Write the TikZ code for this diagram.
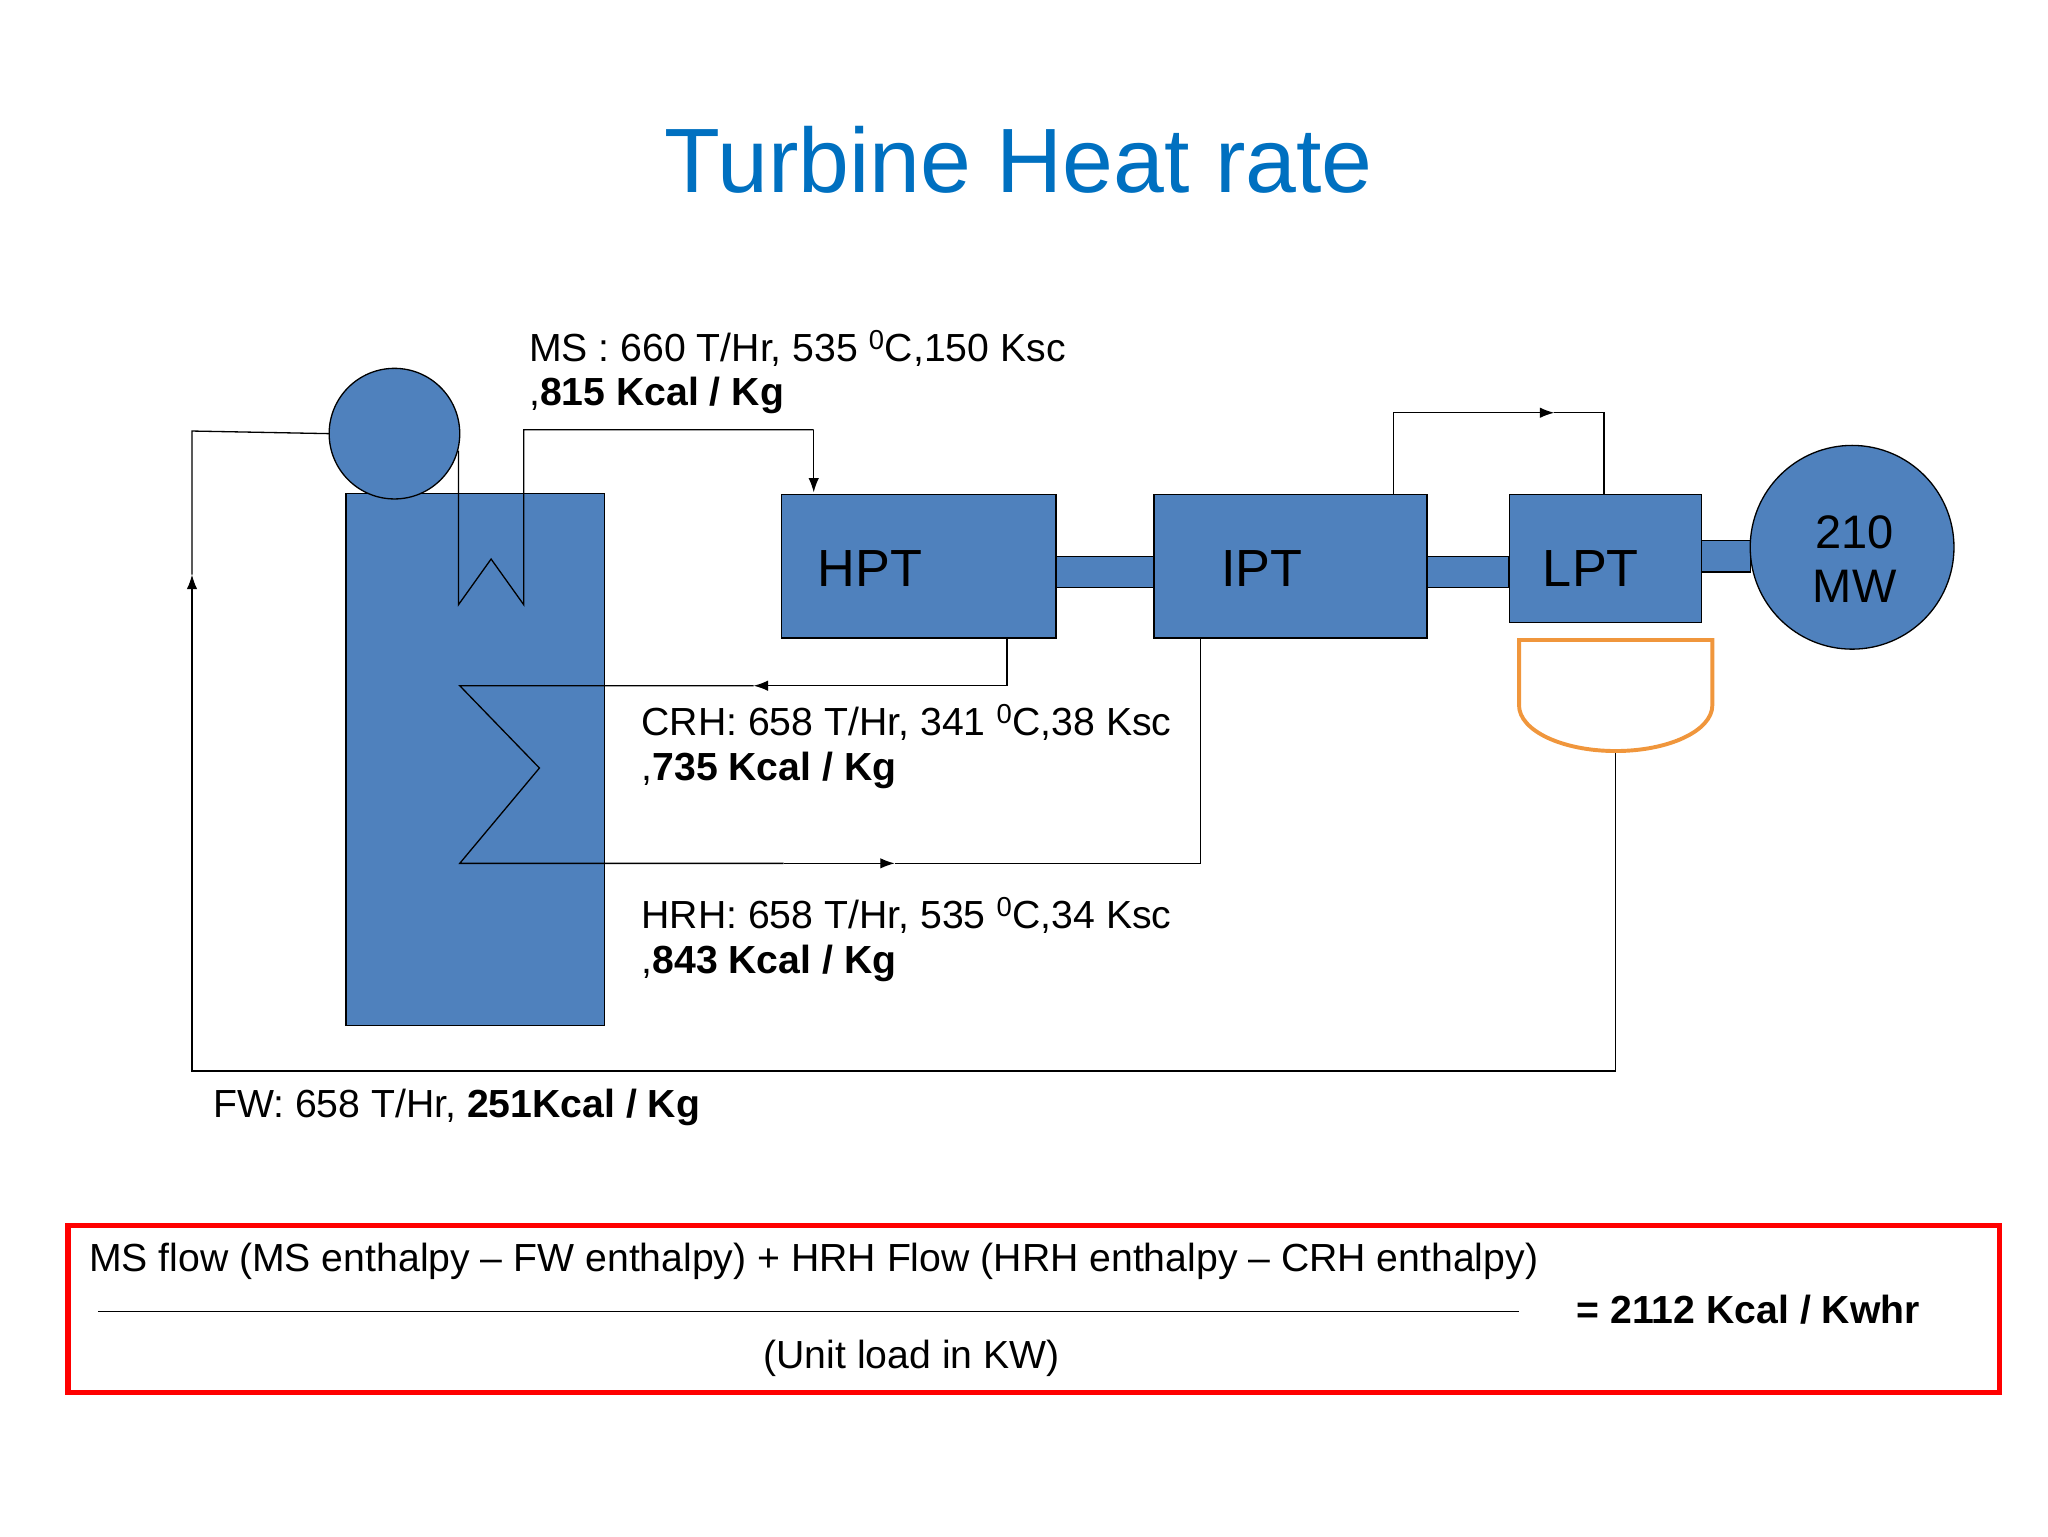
\documentclass[tikz,border=0pt]{standalone}
\usepackage{fontspec}
\setmainfont{Liberation Sans}
\usetikzlibrary{arrows.meta}
\definecolor{tblue}{RGB}{79,129,189}
\definecolor{ttitle}{RGB}{0,112,192}
\definecolor{torange}{RGB}{240,150,60}
\tikzset{
 unit/.style={draw=black,fill=tblue,line width=1pt},
 pipe/.style={draw=black,line width=1pt},
 arr/.style={pipe,-{Latex[length=11pt,width=8pt]}},
 lbl/.style={anchor=west,font=\fontsize{30}{32}\selectfont,inner sep=0pt},
 tlabel/.style={font=\fontsize{40}{42}\selectfont}
}
\begin{document}
\begin{tikzpicture}[x=1pt,y=-1pt]
\useasboundingbox (0,0) rectangle (1568,1176);
\node[text=ttitle,font=\fontsize{70}{72}\selectfont] (title) at (780,122) {Turbine Heat rate};
% boiler
\draw[unit] (265,378) rectangle (463,785);
\draw[unit] (302,332) circle (50);
% superheater & MS line
\coordinate (mstop) at (623,377);
\draw[pipe] (351,345) -- (351,463) -- (376,428) -- (401,463) -- (401,329) -- (623,329);
\draw[arr] (623,329) -- (mstop);
% FW line
\coordinate (fwa) at (147,440);
\draw[pipe] (252,332) -- (147,330) -- (fwa);
\draw[arr] (147,512) -- (fwa);
\draw[pipe] (147,512) -- (147,820) -- (1237,820) -- (1237,575);
% turbines
\draw[unit] (808,426) rectangle (883,450);
\draw[unit] (1092,426) rectangle (1155,450);
\draw[unit] (1302,414) rectangle (1340,438);
\node[unit,minimum width=210pt,minimum height=110pt,anchor=north west] (hpt) at (598,378) {};
\node[tlabel] at (666,435) {HPT};
\node[unit,minimum width=209pt,minimum height=110pt,anchor=north west] (ipt) at (883,378) {};
\node[tlabel] at (966,435) {IPT};
\node[unit,minimum width=147pt,minimum height=98pt,anchor=north west] (lpt) at (1155,378) {};
\node[tlabel] at (1218,435) {LPT};
\node[unit,circle,minimum size=156pt] (gen) at (1418,419) {};
\node[align=center,font=\fontsize{36}{42}\selectfont] (gent) at (1420,428) {210\\MW};
% condenser
\draw[draw=torange,line width=3pt] (1163,490) -- (1311,490) -- (1311,540) arc[start angle=0,end angle=180,x radius=74,y radius=35] -- cycle;
% crossover
\coordinate (xa) at (1190,316);
\draw[arr] (1067,378) -- (1067,316) -- (xa);
\draw[pipe] (xa) -- (1228,316) -- (1228,378);
% CRH
\coordinate (crha) at (577,525);
\draw[arr] (771,488) -- (771,525) -- (crha);
\draw[pipe] (crha) -- (352,525) -- (413,588) -- (352,661) -- (600,661);
\coordinate (hrha) at (685,661);
\draw[arr] (600,661) -- (hrha);
\draw[pipe] (hrha) -- (919,661) -- (919,488);
% labels
\node[lbl] (ms1) at (405,267) {MS : 660 T/Hr, 535 \textsuperscript{0}C,150 Ksc};
\node[lbl] (ms2) at (405,303) {,\textbf{815 Kcal / Kg}};
\node[lbl] (c1) at (491,553) {CRH: 658 T/Hr, 341 \textsuperscript{0}C,38 Ksc};
\node[lbl] (c2) at (491,590) {,\textbf{735 Kcal / Kg}};
\node[lbl] (h1) at (491,701) {HRH: 658 T/Hr, 535 \textsuperscript{0}C,34 Ksc};
\node[lbl] (h2) at (491,738) {,\textbf{843 Kcal / Kg}};
\node[lbl] (fw) at (163,848) {FW: 658 T/Hr, \textbf{251Kcal / Kg}};
% formula box
\draw[red,line width=4pt] (52,938) rectangle (1531,1066);
\node[lbl] (num) at (68,966) {MS flow (MS enthalpy – FW enthalpy) + HRH Flow (HRH enthalpy – CRH enthalpy)};
\draw[line width=0.8pt] (75,1004) -- (1163,1004);
\node[font=\fontsize{30}{32}\selectfont,inner sep=0pt] (den) at (698,1040) {(Unit load in KW)};
\node[lbl] (res) at (1207,1003) {\textbf{= 2112 Kcal / Kwhr}};
\end{tikzpicture}
\end{document}
